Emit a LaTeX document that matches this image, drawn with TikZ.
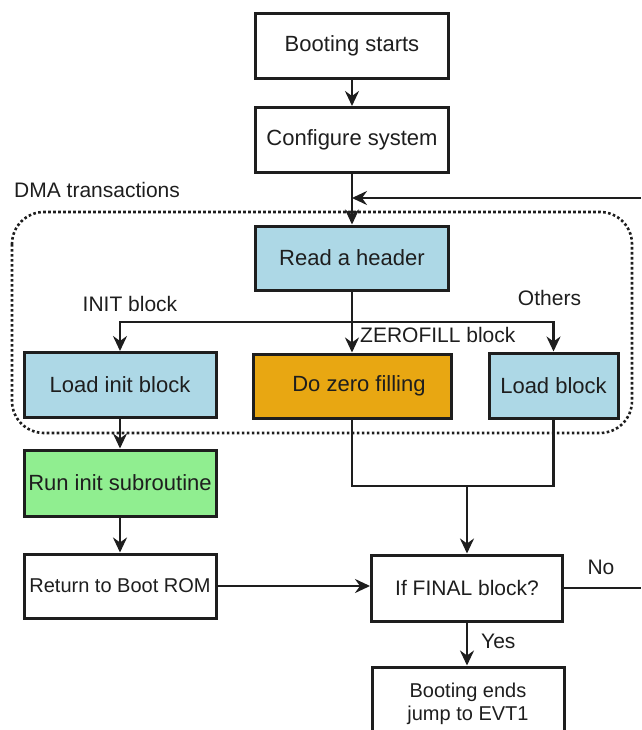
\documentclass[tikz,border=0pt]{standalone}
\usepackage{fontspec}
\setmainfont{Liberation Sans}
\usetikzlibrary{arrows.meta}
\definecolor{hdrblue}{HTML}{ADD8E6}
\definecolor{zerofill}{HTML}{E8A712}
\definecolor{rungreen}{HTML}{90EE90}
\definecolor{ink}{HTML}{1E1E1E}
\begin{document}
\begin{tikzpicture}[x=1pt,y=-1pt,
  box/.style={draw=ink,line width=3pt,rectangle,minimum width=193pt,
    minimum height=65pt,inner sep=0pt,text=ink,font=\fontsize{22}{26}\selectfont},
  arr/.style={draw=ink,line width=2.5pt,-{Stealth[length=15pt,width=14pt,inset=5pt]}},
  wire/.style={draw=ink,line width=2.5pt},
  lbl/.style={text=ink,font=\fontsize{21}{25}\selectfont,inner sep=0pt},
  frame/.style={draw=ink,line width=2.6pt,dash pattern=on 2.6pt off 2.4pt,
    rounded corners=32pt}]
\useasboundingbox (0,0) rectangle (641,730);

% dotted group of DMA transactions
\draw[frame] (12,212) rectangle (632,433);
\node[lbl,anchor=west] (dma) at (14,190) {DMA transactions};

% process boxes
\node[box] (boot) at (352,46) {Booting starts};
\node[box] (config) at (352,140) {Configure system};
\node[box,fill=hdrblue,minimum height=64pt] (header) at (352,258) {Read a header};
\node[box,fill=hdrblue,minimum width=192pt] (loadinit) at (120,385) {Load init block};
\node[box,fill=zerofill,minimum width=198pt,minimum height=64pt] (zero) at (352,386)
  {\hspace*{14pt}Do zero filling};
\node[box,fill=hdrblue,minimum width=129pt] (loadblk) at (553.5,385.5) {Load block};
\node[box,fill=rungreen,minimum width=192pt,minimum height=66pt] (runinit) at (120,483)
  {Run init subroutine};
\node[box,minimum width=192pt,minimum height=64pt,font=\fontsize{20}{24}\selectfont]
  (retrom) at (120,586) {Return to Boot ROM};
\node[box,minimum width=191pt,minimum height=66pt,font=\fontsize{21}{25}\selectfont]
  (final) at (467,588) {If FINAL block?};
\node[box,minimum width=192pt,minimum height=74pt,align=center,
  font=\fontsize{20}{23}\selectfont] (ends) at (468,704) {Booting ends\\jump to EVT1};

% branch labels
\node[lbl] (initlbl) at (130,304) {INIT block};
\node[lbl] (otherslbl) at (549.5,298) {Others};
\node[lbl,anchor=west] (zerolbl) at (360,335) {ZEROFILL block};
\node[lbl] (nolbl) at (601,567) {No};
\node[lbl,anchor=west] (yeslbl) at (481,641) {Yes};

% helper points
\coordinate (br) at (352,322);
\coordinate (mg) at (467,486);
\coordinate (loopEnd) at (641,198);
\coordinate (loopTip) at (352,198);
\coordinate (noEnd) at (641,588);

% connectors
\draw[arr] (boot) -- (config);
\draw[arr] (config) -- (header);
\draw[arr] (loopEnd) -- (loopTip);
\draw[wire] (header) -- (br);
\draw[arr] (br) -| (loadinit.north);
\draw[arr] (br) -| (loadblk.north);
\draw[arr] (br) -- (zero.north);
\draw[arr] (loadinit) -- (runinit);
\draw[arr] (runinit) -- (retrom);
\draw[wire] (zero.south) |- (mg);
\draw[wire] (loadblk.south) |- (mg);
\draw[arr] (mg) -- (final.north);
\draw[arr] (retrom.east) -- (retrom.east -| final.west);
\draw[wire] (final.east) -- (noEnd);
\draw[arr] (final.south) -- (final.south |- ends.north);
\end{tikzpicture}
\end{document}
